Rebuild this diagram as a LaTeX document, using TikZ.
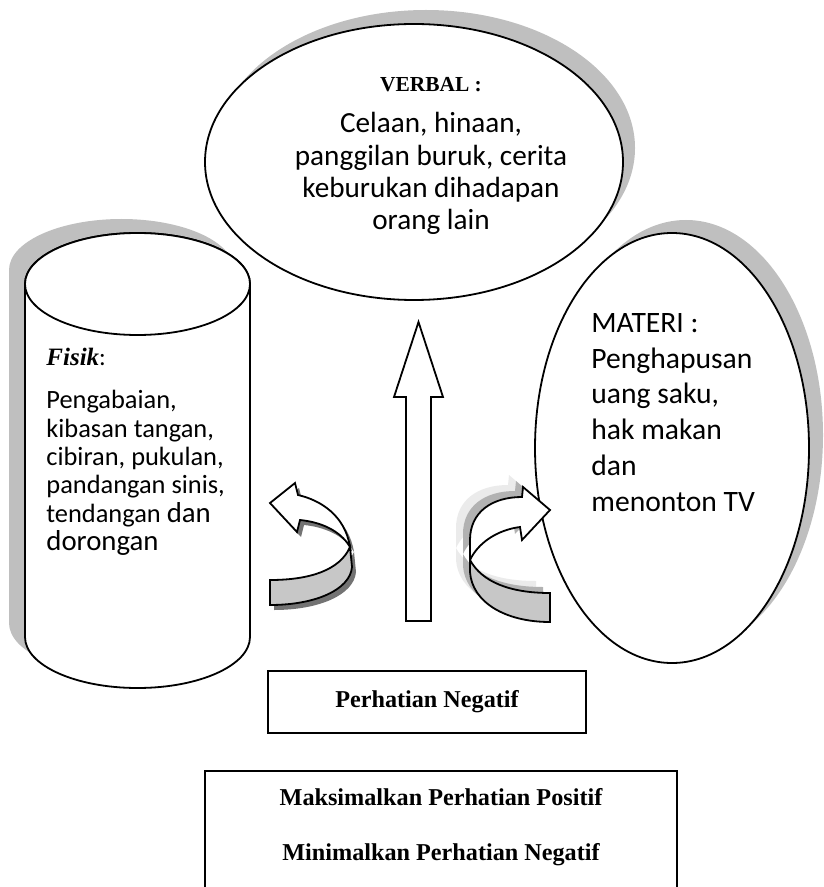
\documentclass[tikz,border=0pt]{standalone}
\usepackage{fontspec}
\setmainfont{Carlito}
\newfontfamily\tnr{Liberation Serif}
\usetikzlibrary{calc}

\tikzset{
  shadowfill/.style={fill=black!25, draw=none},
  outline/.style={draw=black, line width=0.9pt, fill=white},
  band/.style={draw=black, line width=0.9pt, fill=black!22},
  timesbf/.style={inner sep=0pt, font=\tnr\bfseries\fontsize{12.1}{14.5}\selectfont},
}

\begin{document}
\begin{tikzpicture}[x=0.5pt, y=-0.5pt]
\useasboundingbox (0,0) rectangle (823,887);
\clip (0,0) rectangle (823,887);

	% shadows
	\begin{scope}[shift={(-16,-14)}]
	\fill[shadowfill] (25,284) arc[start angle=180, end angle=360, x radius=112.5, y radius=51] -- (250,637) arc[start angle=0, end angle=180, x radius=112.5, y radius=51] -- cycle;
	\end{scope}
	\fill[shadowfill, shift={(12,-14)}] (414,162) ellipse[x radius=209, y radius=138];
	\fill[shadowfill, shift={(14,-13)}] (672,448) ellipse[x radius=137, y radius=215];

	% cylinder (fisik)
	\draw[outline] (25,284) arc[start angle=180, end angle=360, x radius=112.5, y radius=51] -- (250,637) arc[start angle=0, end angle=180, x radius=112.5, y radius=51] -- cycle;
	\draw[outline] (137.5,284) ellipse[x radius=112.5, y radius=51];

	% ellipses
	\draw[outline] (414,162) ellipse[x radius=209, y radius=138];
	\draw[outline] (672,448) ellipse[x radius=137, y radius=215];

	% up arrow
	\draw[outline, line join=miter] (406,621) -- (406,397) -- (394,397) -- (418.5,322) -- (443,397) -- (431,397) -- (431,621) -- cycle;

	% left twisted arrow
	\begin{scope}[shift={(4,5)}]
	\fill[black!55] (350,547) .. controls (345,515) and (320,500) .. (298,495) -- (295,483) -- (270,503) -- (297,532) -- (300,520) .. controls (320,522) and (340,530) .. (350,547) -- cycle;
	\fill[black!55] (350,547) .. controls (340,570) and (310,580) .. (270,580) -- (270,605) .. controls (315,605) and (350,590) .. (352,567) -- cycle;
	\end{scope}
	\draw[outline, line join=miter] (350,547) .. controls (345,515) and (320,500) .. (298,495) -- (295,483) -- (270,503) -- (297,532) -- (300,520) .. controls (320,522) and (340,530) .. (350,547) -- cycle;
	\draw[band] (350,547) .. controls (340,570) and (310,580) .. (270,580) -- (270,605) .. controls (315,605) and (350,590) .. (352,567) -- cycle;

	% right twisted arrow
	\begin{scope}[shift={(-14,-12)}]
	\fill[black!8] (470,560) -- (470,540) .. controls (470,512) and (492,497) .. (522,497) -- (523,487) -- (550,510) -- (522,540) -- (520,527) .. controls (497,530) and (478,543) .. (470,560) -- cycle;
	\fill[black!8] (470,560) .. controls (482,582) and (510,593) .. (550,593) -- (550,622) .. controls (505,622) and (472,602) .. (470,572) -- cycle;
	\end{scope}
	\begin{scope}[shift={(-7,-6)}]
	\fill[black!30] (470,560) -- (470,540) .. controls (470,512) and (492,497) .. (522,497) -- (523,487) -- (550,510) -- (522,540) -- (520,527) .. controls (497,530) and (478,543) .. (470,560) -- cycle;
	\fill[black!30] (470,560) .. controls (482,582) and (510,593) .. (550,593) -- (550,622) .. controls (505,622) and (472,602) .. (470,572) -- cycle;
	\end{scope}
	\draw[outline, line join=miter] (470,560) -- (470,540) .. controls (470,512) and (492,497) .. (522,497) -- (523,487) -- (550,510) -- (522,540) -- (520,527) .. controls (497,530) and (478,543) .. (470,560) -- cycle;
	\draw[band] (470,560) .. controls (482,582) and (510,593) .. (550,593) -- (550,622) .. controls (505,622) and (472,602) .. (470,572) -- cycle;

	% texts
	\node[anchor=base, inner sep=0pt, font=\tnr\bfseries\fontsize{10.7}{12}\selectfont] (verbalhead) at (431,92) {VERBAL :};
	\node[anchor=north, align=center, inner sep=0pt, font=\fontsize{14.6}{16.2}\selectfont] (verbaltext) at (431,112) {Celaan, hinaan,\\panggilan buruk, cerita\\keburukan dihadapan\\orang lain};

	\node[anchor=base west, inner sep=0pt, font=\fontsize{12.5}{14}\selectfont] (fisikhead) at (46,365) {{\tnr\bfseries\itshape Fisik}:};
	\node[anchor=north west, align=left, inner sep=0pt, font=\fontsize{13.2}{14.2}\selectfont] (fisiktext) at (46,390) {Pengabaian,\\kibasan tangan,\\cibiran, pukulan,\\pandangan sinis,\\tendangan {\fontsize{14.4}{14.2}\selectfont dan}\\{\fontsize{14.4}{14.2}\selectfont dorongan}};

	\node[anchor=north west, align=left, inner sep=0pt, font=\fontsize{14.8}{17.9}\selectfont] (materitext) at (591,313) {MATERI :\\Penghapusan\\uang saku,\\hak makan\\dan\\menonton TV};

	% boxes
	\node[draw, line width=0.9pt, minimum width=159pt, minimum height=31pt, timesbf] (negatif) at (427,702) {Perhatian Negatif};
	\draw[line width=0.9pt] (205,771) rectangle (677,900);
	\node[timesbf, anchor=base] (maksimal) at (441,805) {Maksimalkan Perhatian Positif};
	\node[timesbf, anchor=base] (minimal) at (441,860) {Minimalkan Perhatian Negatif};

\end{tikzpicture}
\end{document}
